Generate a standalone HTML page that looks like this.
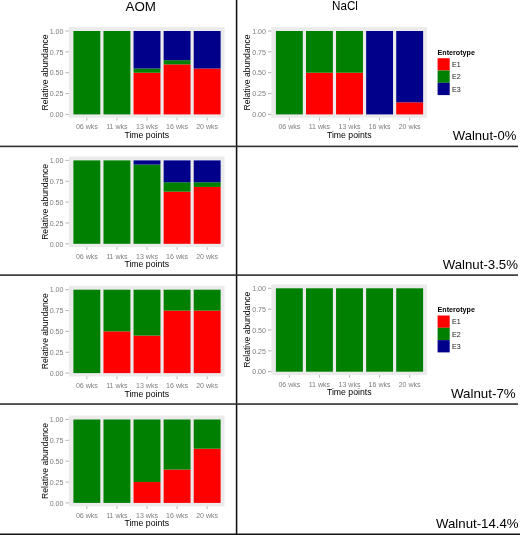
<!DOCTYPE html>
<html><head><meta charset="utf-8"><title>Enterotype</title>
<style>
html,body{margin:0;padding:0;background:#fff;}
body{width:520px;height:535px;overflow:hidden;font-family:"Liberation Sans",sans-serif;}
svg{display:block;}
svg text{font-family:"Liberation Sans",sans-serif;}
</style></head><body>
<svg width="520" height="535" viewBox="0 0 520 535">
<defs><filter id="soft" x="-5%" y="-5%" width="110%" height="110%" color-interpolation-filters="sRGB"><feGaussianBlur stdDeviation="0.35"/></filter></defs>
<g filter="url(#soft)">
<rect x="-10" y="-10" width="540" height="555" fill="#fff"/>
<rect x="68.90" y="27.10" width="155.60" height="90.70" fill="#ebebeb"/>
<rect x="73.40" y="31.00" width="26.90" height="83.40" fill="#008000"/>
<line x1="86.85" x2="86.85" y1="117.80" y2="120.50" stroke="#8c8c8c" stroke-width="0.6"/>
<text x="86.85" y="129.20" font-size="7.05" fill="#7f7f7f" text-anchor="middle">06 wks</text>
<rect x="103.48" y="31.00" width="26.90" height="83.40" fill="#008000"/>
<line x1="116.93" x2="116.93" y1="117.80" y2="120.50" stroke="#8c8c8c" stroke-width="0.6"/>
<text x="116.93" y="129.20" font-size="7.05" fill="#7f7f7f" text-anchor="middle">11 wks</text>
<rect x="133.56" y="72.70" width="26.90" height="41.70" fill="#ff0000"/>
<rect x="133.56" y="68.53" width="26.90" height="4.17" fill="#008000"/>
<rect x="133.56" y="31.00" width="26.90" height="37.53" fill="#00008b"/>
<line x1="147.01" x2="147.01" y1="117.80" y2="120.50" stroke="#8c8c8c" stroke-width="0.6"/>
<text x="147.01" y="129.20" font-size="7.05" fill="#7f7f7f" text-anchor="middle">13 wks</text>
<rect x="163.64" y="64.36" width="26.90" height="50.04" fill="#ff0000"/>
<rect x="163.64" y="60.19" width="26.90" height="4.17" fill="#008000"/>
<rect x="163.64" y="31.00" width="26.90" height="29.19" fill="#00008b"/>
<line x1="177.09" x2="177.09" y1="117.80" y2="120.50" stroke="#8c8c8c" stroke-width="0.6"/>
<text x="177.09" y="129.20" font-size="7.05" fill="#7f7f7f" text-anchor="middle">16 wks</text>
<rect x="193.72" y="68.53" width="26.90" height="45.87" fill="#ff0000"/>
<rect x="193.72" y="31.00" width="26.90" height="37.53" fill="#00008b"/>
<line x1="207.17" x2="207.17" y1="117.80" y2="120.50" stroke="#8c8c8c" stroke-width="0.6"/>
<text x="207.17" y="129.20" font-size="7.05" fill="#7f7f7f" text-anchor="middle">20 wks</text>
<line x1="65.50" x2="68.90" y1="114.40" y2="114.40" stroke="#8c8c8c" stroke-width="0.65"/>
<text x="63.50" y="117.15" font-size="7.1" fill="#7f7f7f" text-anchor="end">0.00</text>
<line x1="65.50" x2="68.90" y1="93.55" y2="93.55" stroke="#8c8c8c" stroke-width="0.65"/>
<text x="63.50" y="96.30" font-size="7.1" fill="#7f7f7f" text-anchor="end">0.25</text>
<line x1="65.50" x2="68.90" y1="72.70" y2="72.70" stroke="#8c8c8c" stroke-width="0.65"/>
<text x="63.50" y="75.45" font-size="7.1" fill="#7f7f7f" text-anchor="end">0.50</text>
<line x1="65.50" x2="68.90" y1="51.85" y2="51.85" stroke="#8c8c8c" stroke-width="0.65"/>
<text x="63.50" y="54.60" font-size="7.1" fill="#7f7f7f" text-anchor="end">0.75</text>
<line x1="65.50" x2="68.90" y1="31.00" y2="31.00" stroke="#8c8c8c" stroke-width="0.65"/>
<text x="63.50" y="33.75" font-size="7.1" fill="#7f7f7f" text-anchor="end">1.00</text>
<text x="146.70" y="137.80" font-size="8.7" fill="#000" text-anchor="middle">Time points</text>
<text transform="translate(47.90,72.45) rotate(-90)" font-size="8.6" fill="#000" text-anchor="middle">Relative abundance</text>
<rect x="271.40" y="27.10" width="155.60" height="90.70" fill="#ebebeb"/>
<rect x="275.90" y="31.00" width="26.90" height="83.40" fill="#008000"/>
<line x1="289.35" x2="289.35" y1="117.80" y2="120.50" stroke="#8c8c8c" stroke-width="0.6"/>
<text x="289.35" y="129.20" font-size="7.05" fill="#7f7f7f" text-anchor="middle">06 wks</text>
<rect x="305.98" y="72.70" width="26.90" height="41.70" fill="#ff0000"/>
<rect x="305.98" y="31.00" width="26.90" height="41.70" fill="#008000"/>
<line x1="319.43" x2="319.43" y1="117.80" y2="120.50" stroke="#8c8c8c" stroke-width="0.6"/>
<text x="319.43" y="129.20" font-size="7.05" fill="#7f7f7f" text-anchor="middle">11 wks</text>
<rect x="336.06" y="72.70" width="26.90" height="41.70" fill="#ff0000"/>
<rect x="336.06" y="31.00" width="26.90" height="41.70" fill="#008000"/>
<line x1="349.51" x2="349.51" y1="117.80" y2="120.50" stroke="#8c8c8c" stroke-width="0.6"/>
<text x="349.51" y="129.20" font-size="7.05" fill="#7f7f7f" text-anchor="middle">13 wks</text>
<rect x="366.14" y="31.00" width="26.90" height="83.40" fill="#00008b"/>
<line x1="379.59" x2="379.59" y1="117.80" y2="120.50" stroke="#8c8c8c" stroke-width="0.6"/>
<text x="379.59" y="129.20" font-size="7.05" fill="#7f7f7f" text-anchor="middle">16 wks</text>
<rect x="396.22" y="102.31" width="26.90" height="12.09" fill="#ff0000"/>
<rect x="396.22" y="31.00" width="26.90" height="71.31" fill="#00008b"/>
<line x1="409.67" x2="409.67" y1="117.80" y2="120.50" stroke="#8c8c8c" stroke-width="0.6"/>
<text x="409.67" y="129.20" font-size="7.05" fill="#7f7f7f" text-anchor="middle">20 wks</text>
<line x1="268.00" x2="271.40" y1="114.40" y2="114.40" stroke="#8c8c8c" stroke-width="0.65"/>
<text x="266.00" y="117.15" font-size="7.1" fill="#7f7f7f" text-anchor="end">0.00</text>
<line x1="268.00" x2="271.40" y1="93.55" y2="93.55" stroke="#8c8c8c" stroke-width="0.65"/>
<text x="266.00" y="96.30" font-size="7.1" fill="#7f7f7f" text-anchor="end">0.25</text>
<line x1="268.00" x2="271.40" y1="72.70" y2="72.70" stroke="#8c8c8c" stroke-width="0.65"/>
<text x="266.00" y="75.45" font-size="7.1" fill="#7f7f7f" text-anchor="end">0.50</text>
<line x1="268.00" x2="271.40" y1="51.85" y2="51.85" stroke="#8c8c8c" stroke-width="0.65"/>
<text x="266.00" y="54.60" font-size="7.1" fill="#7f7f7f" text-anchor="end">0.75</text>
<line x1="268.00" x2="271.40" y1="31.00" y2="31.00" stroke="#8c8c8c" stroke-width="0.65"/>
<text x="266.00" y="33.75" font-size="7.1" fill="#7f7f7f" text-anchor="end">1.00</text>
<text x="349.20" y="137.80" font-size="8.7" fill="#000" text-anchor="middle">Time points</text>
<text transform="translate(250.40,72.45) rotate(-90)" font-size="8.6" fill="#000" text-anchor="middle">Relative abundance</text>
<text x="437.60" y="54.80" font-size="7.15" font-weight="bold" fill="#000">Enterotype</text>
<rect x="437.60" y="58.20" width="12.1" height="12.3" fill="#ff0000"/>
<text x="452.00" y="66.90" font-size="7.1" fill="#1a1a1a">E1</text>
<rect x="437.60" y="70.50" width="12.1" height="12.3" fill="#008000"/>
<text x="452.00" y="79.20" font-size="7.1" fill="#1a1a1a">E2</text>
<rect x="437.60" y="82.80" width="12.1" height="12.3" fill="#00008b"/>
<text x="452.00" y="91.50" font-size="7.1" fill="#1a1a1a">E3</text>
<rect x="68.90" y="156.50" width="155.60" height="90.70" fill="#ebebeb"/>
<rect x="73.40" y="160.40" width="26.90" height="83.40" fill="#008000"/>
<line x1="86.85" x2="86.85" y1="247.20" y2="249.90" stroke="#8c8c8c" stroke-width="0.6"/>
<text x="86.85" y="258.60" font-size="7.05" fill="#7f7f7f" text-anchor="middle">06 wks</text>
<rect x="103.48" y="160.40" width="26.90" height="83.40" fill="#008000"/>
<line x1="116.93" x2="116.93" y1="247.20" y2="249.90" stroke="#8c8c8c" stroke-width="0.6"/>
<text x="116.93" y="258.60" font-size="7.05" fill="#7f7f7f" text-anchor="middle">11 wks</text>
<rect x="133.56" y="164.57" width="26.90" height="79.23" fill="#008000"/>
<rect x="133.56" y="160.40" width="26.90" height="4.17" fill="#00008b"/>
<line x1="147.01" x2="147.01" y1="247.20" y2="249.90" stroke="#8c8c8c" stroke-width="0.6"/>
<text x="147.01" y="258.60" font-size="7.05" fill="#7f7f7f" text-anchor="middle">13 wks</text>
<rect x="163.64" y="191.68" width="26.90" height="52.12" fill="#ff0000"/>
<rect x="163.64" y="182.25" width="26.90" height="9.42" fill="#008000"/>
<rect x="163.64" y="160.40" width="26.90" height="21.85" fill="#00008b"/>
<line x1="177.09" x2="177.09" y1="247.20" y2="249.90" stroke="#8c8c8c" stroke-width="0.6"/>
<text x="177.09" y="258.60" font-size="7.05" fill="#7f7f7f" text-anchor="middle">16 wks</text>
<rect x="193.72" y="186.92" width="26.90" height="56.88" fill="#ff0000"/>
<rect x="193.72" y="182.25" width="26.90" height="4.67" fill="#008000"/>
<rect x="193.72" y="160.40" width="26.90" height="21.85" fill="#00008b"/>
<line x1="207.17" x2="207.17" y1="247.20" y2="249.90" stroke="#8c8c8c" stroke-width="0.6"/>
<text x="207.17" y="258.60" font-size="7.05" fill="#7f7f7f" text-anchor="middle">20 wks</text>
<line x1="65.50" x2="68.90" y1="243.80" y2="243.80" stroke="#8c8c8c" stroke-width="0.65"/>
<text x="63.50" y="246.55" font-size="7.1" fill="#7f7f7f" text-anchor="end">0.00</text>
<line x1="65.50" x2="68.90" y1="222.95" y2="222.95" stroke="#8c8c8c" stroke-width="0.65"/>
<text x="63.50" y="225.70" font-size="7.1" fill="#7f7f7f" text-anchor="end">0.25</text>
<line x1="65.50" x2="68.90" y1="202.10" y2="202.10" stroke="#8c8c8c" stroke-width="0.65"/>
<text x="63.50" y="204.85" font-size="7.1" fill="#7f7f7f" text-anchor="end">0.50</text>
<line x1="65.50" x2="68.90" y1="181.25" y2="181.25" stroke="#8c8c8c" stroke-width="0.65"/>
<text x="63.50" y="184.00" font-size="7.1" fill="#7f7f7f" text-anchor="end">0.75</text>
<line x1="65.50" x2="68.90" y1="160.40" y2="160.40" stroke="#8c8c8c" stroke-width="0.65"/>
<text x="63.50" y="163.15" font-size="7.1" fill="#7f7f7f" text-anchor="end">1.00</text>
<text x="146.70" y="267.20" font-size="8.7" fill="#000" text-anchor="middle">Time points</text>
<text transform="translate(47.90,201.85) rotate(-90)" font-size="8.6" fill="#000" text-anchor="middle">Relative abundance</text>
<rect x="68.90" y="285.80" width="155.60" height="90.70" fill="#ebebeb"/>
<rect x="73.40" y="289.70" width="26.90" height="83.40" fill="#008000"/>
<line x1="86.85" x2="86.85" y1="376.50" y2="379.20" stroke="#8c8c8c" stroke-width="0.6"/>
<text x="86.85" y="387.90" font-size="7.05" fill="#7f7f7f" text-anchor="middle">06 wks</text>
<rect x="103.48" y="331.40" width="26.90" height="41.70" fill="#ff0000"/>
<rect x="103.48" y="289.70" width="26.90" height="41.70" fill="#008000"/>
<line x1="116.93" x2="116.93" y1="376.50" y2="379.20" stroke="#8c8c8c" stroke-width="0.6"/>
<text x="116.93" y="387.90" font-size="7.05" fill="#7f7f7f" text-anchor="middle">11 wks</text>
<rect x="133.56" y="335.57" width="26.90" height="37.53" fill="#ff0000"/>
<rect x="133.56" y="289.70" width="26.90" height="45.87" fill="#008000"/>
<line x1="147.01" x2="147.01" y1="376.50" y2="379.20" stroke="#8c8c8c" stroke-width="0.6"/>
<text x="147.01" y="387.90" font-size="7.05" fill="#7f7f7f" text-anchor="middle">13 wks</text>
<rect x="163.64" y="310.55" width="26.90" height="62.55" fill="#ff0000"/>
<rect x="163.64" y="289.70" width="26.90" height="20.85" fill="#008000"/>
<line x1="177.09" x2="177.09" y1="376.50" y2="379.20" stroke="#8c8c8c" stroke-width="0.6"/>
<text x="177.09" y="387.90" font-size="7.05" fill="#7f7f7f" text-anchor="middle">16 wks</text>
<rect x="193.72" y="310.55" width="26.90" height="62.55" fill="#ff0000"/>
<rect x="193.72" y="289.70" width="26.90" height="20.85" fill="#008000"/>
<line x1="207.17" x2="207.17" y1="376.50" y2="379.20" stroke="#8c8c8c" stroke-width="0.6"/>
<text x="207.17" y="387.90" font-size="7.05" fill="#7f7f7f" text-anchor="middle">20 wks</text>
<line x1="65.50" x2="68.90" y1="373.10" y2="373.10" stroke="#8c8c8c" stroke-width="0.65"/>
<text x="63.50" y="375.85" font-size="7.1" fill="#7f7f7f" text-anchor="end">0.00</text>
<line x1="65.50" x2="68.90" y1="352.25" y2="352.25" stroke="#8c8c8c" stroke-width="0.65"/>
<text x="63.50" y="355.00" font-size="7.1" fill="#7f7f7f" text-anchor="end">0.25</text>
<line x1="65.50" x2="68.90" y1="331.40" y2="331.40" stroke="#8c8c8c" stroke-width="0.65"/>
<text x="63.50" y="334.15" font-size="7.1" fill="#7f7f7f" text-anchor="end">0.50</text>
<line x1="65.50" x2="68.90" y1="310.55" y2="310.55" stroke="#8c8c8c" stroke-width="0.65"/>
<text x="63.50" y="313.30" font-size="7.1" fill="#7f7f7f" text-anchor="end">0.75</text>
<line x1="65.50" x2="68.90" y1="289.70" y2="289.70" stroke="#8c8c8c" stroke-width="0.65"/>
<text x="63.50" y="292.45" font-size="7.1" fill="#7f7f7f" text-anchor="end">1.00</text>
<text x="146.70" y="396.50" font-size="8.7" fill="#000" text-anchor="middle">Time points</text>
<text transform="translate(47.90,331.15) rotate(-90)" font-size="8.6" fill="#000" text-anchor="middle">Relative abundance</text>
<rect x="271.40" y="284.40" width="155.60" height="90.70" fill="#ebebeb"/>
<rect x="275.90" y="288.30" width="26.90" height="83.40" fill="#008000"/>
<line x1="289.35" x2="289.35" y1="375.10" y2="377.80" stroke="#8c8c8c" stroke-width="0.6"/>
<text x="289.35" y="386.50" font-size="7.05" fill="#7f7f7f" text-anchor="middle">06 wks</text>
<rect x="305.98" y="288.30" width="26.90" height="83.40" fill="#008000"/>
<line x1="319.43" x2="319.43" y1="375.10" y2="377.80" stroke="#8c8c8c" stroke-width="0.6"/>
<text x="319.43" y="386.50" font-size="7.05" fill="#7f7f7f" text-anchor="middle">11 wks</text>
<rect x="336.06" y="288.30" width="26.90" height="83.40" fill="#008000"/>
<line x1="349.51" x2="349.51" y1="375.10" y2="377.80" stroke="#8c8c8c" stroke-width="0.6"/>
<text x="349.51" y="386.50" font-size="7.05" fill="#7f7f7f" text-anchor="middle">13 wks</text>
<rect x="366.14" y="288.30" width="26.90" height="83.40" fill="#008000"/>
<line x1="379.59" x2="379.59" y1="375.10" y2="377.80" stroke="#8c8c8c" stroke-width="0.6"/>
<text x="379.59" y="386.50" font-size="7.05" fill="#7f7f7f" text-anchor="middle">16 wks</text>
<rect x="396.22" y="288.30" width="26.90" height="83.40" fill="#008000"/>
<line x1="409.67" x2="409.67" y1="375.10" y2="377.80" stroke="#8c8c8c" stroke-width="0.6"/>
<text x="409.67" y="386.50" font-size="7.05" fill="#7f7f7f" text-anchor="middle">20 wks</text>
<line x1="268.00" x2="271.40" y1="371.70" y2="371.70" stroke="#8c8c8c" stroke-width="0.65"/>
<text x="266.00" y="374.45" font-size="7.1" fill="#7f7f7f" text-anchor="end">0.00</text>
<line x1="268.00" x2="271.40" y1="350.85" y2="350.85" stroke="#8c8c8c" stroke-width="0.65"/>
<text x="266.00" y="353.60" font-size="7.1" fill="#7f7f7f" text-anchor="end">0.25</text>
<line x1="268.00" x2="271.40" y1="330.00" y2="330.00" stroke="#8c8c8c" stroke-width="0.65"/>
<text x="266.00" y="332.75" font-size="7.1" fill="#7f7f7f" text-anchor="end">0.50</text>
<line x1="268.00" x2="271.40" y1="309.15" y2="309.15" stroke="#8c8c8c" stroke-width="0.65"/>
<text x="266.00" y="311.90" font-size="7.1" fill="#7f7f7f" text-anchor="end">0.75</text>
<line x1="268.00" x2="271.40" y1="288.30" y2="288.30" stroke="#8c8c8c" stroke-width="0.65"/>
<text x="266.00" y="291.05" font-size="7.1" fill="#7f7f7f" text-anchor="end">1.00</text>
<text x="349.20" y="395.10" font-size="8.7" fill="#000" text-anchor="middle">Time points</text>
<text transform="translate(250.40,329.75) rotate(-90)" font-size="8.6" fill="#000" text-anchor="middle">Relative abundance</text>
<text x="437.60" y="312.10" font-size="7.15" font-weight="bold" fill="#000">Enterotype</text>
<rect x="437.60" y="315.50" width="12.1" height="12.3" fill="#ff0000"/>
<text x="452.00" y="324.20" font-size="7.1" fill="#1a1a1a">E1</text>
<rect x="437.60" y="327.80" width="12.1" height="12.3" fill="#008000"/>
<text x="452.00" y="336.50" font-size="7.1" fill="#1a1a1a">E2</text>
<rect x="437.60" y="340.10" width="12.1" height="12.3" fill="#00008b"/>
<text x="452.00" y="348.80" font-size="7.1" fill="#1a1a1a">E3</text>
<rect x="68.90" y="415.60" width="155.60" height="90.70" fill="#ebebeb"/>
<rect x="73.40" y="419.50" width="26.90" height="83.40" fill="#008000"/>
<line x1="86.85" x2="86.85" y1="506.30" y2="509.00" stroke="#8c8c8c" stroke-width="0.6"/>
<text x="86.85" y="517.70" font-size="7.05" fill="#7f7f7f" text-anchor="middle">06 wks</text>
<rect x="103.48" y="419.50" width="26.90" height="83.40" fill="#008000"/>
<line x1="116.93" x2="116.93" y1="506.30" y2="509.00" stroke="#8c8c8c" stroke-width="0.6"/>
<text x="116.93" y="517.70" font-size="7.05" fill="#7f7f7f" text-anchor="middle">11 wks</text>
<rect x="133.56" y="482.05" width="26.90" height="20.85" fill="#ff0000"/>
<rect x="133.56" y="419.50" width="26.90" height="62.55" fill="#008000"/>
<line x1="147.01" x2="147.01" y1="506.30" y2="509.00" stroke="#8c8c8c" stroke-width="0.6"/>
<text x="147.01" y="517.70" font-size="7.05" fill="#7f7f7f" text-anchor="middle">13 wks</text>
<rect x="163.64" y="469.54" width="26.90" height="33.36" fill="#ff0000"/>
<rect x="163.64" y="419.50" width="26.90" height="50.04" fill="#008000"/>
<line x1="177.09" x2="177.09" y1="506.30" y2="509.00" stroke="#8c8c8c" stroke-width="0.6"/>
<text x="177.09" y="517.70" font-size="7.05" fill="#7f7f7f" text-anchor="middle">16 wks</text>
<rect x="193.72" y="448.69" width="26.90" height="54.21" fill="#ff0000"/>
<rect x="193.72" y="419.50" width="26.90" height="29.19" fill="#008000"/>
<line x1="207.17" x2="207.17" y1="506.30" y2="509.00" stroke="#8c8c8c" stroke-width="0.6"/>
<text x="207.17" y="517.70" font-size="7.05" fill="#7f7f7f" text-anchor="middle">20 wks</text>
<line x1="65.50" x2="68.90" y1="502.90" y2="502.90" stroke="#8c8c8c" stroke-width="0.65"/>
<text x="63.50" y="505.65" font-size="7.1" fill="#7f7f7f" text-anchor="end">0.00</text>
<line x1="65.50" x2="68.90" y1="482.05" y2="482.05" stroke="#8c8c8c" stroke-width="0.65"/>
<text x="63.50" y="484.80" font-size="7.1" fill="#7f7f7f" text-anchor="end">0.25</text>
<line x1="65.50" x2="68.90" y1="461.20" y2="461.20" stroke="#8c8c8c" stroke-width="0.65"/>
<text x="63.50" y="463.95" font-size="7.1" fill="#7f7f7f" text-anchor="end">0.50</text>
<line x1="65.50" x2="68.90" y1="440.35" y2="440.35" stroke="#8c8c8c" stroke-width="0.65"/>
<text x="63.50" y="443.10" font-size="7.1" fill="#7f7f7f" text-anchor="end">0.75</text>
<line x1="65.50" x2="68.90" y1="419.50" y2="419.50" stroke="#8c8c8c" stroke-width="0.65"/>
<text x="63.50" y="422.25" font-size="7.1" fill="#7f7f7f" text-anchor="end">1.00</text>
<text x="146.70" y="526.30" font-size="8.7" fill="#000" text-anchor="middle">Time points</text>
<text transform="translate(47.90,460.95) rotate(-90)" font-size="8.6" fill="#000" text-anchor="middle">Relative abundance</text>
<rect x="235.8" y="-6" width="1.55" height="547" fill="#111"/>
<rect x="-6" y="145.6" width="524" height="1.6" fill="#303030"/>
<rect x="-6" y="274.3" width="524" height="1.6" fill="#303030"/>
<rect x="-6" y="403.25" width="524" height="1.6" fill="#303030"/>
<rect x="-6" y="533.5" width="532" height="8" fill="#111"/>
<text x="140.7" y="10.6" font-size="12.0" text-anchor="middle" fill="#000" textLength="30.4" lengthAdjust="spacingAndGlyphs">AOM</text>
<text x="345" y="10.3" font-size="12.1" text-anchor="middle" fill="#000" textLength="25.8" lengthAdjust="spacingAndGlyphs">NaCl</text>
<text x="516.3" y="139.7" font-size="12.6" text-anchor="end" fill="#000" textLength="63.5" lengthAdjust="spacingAndGlyphs">Walnut-0%</text>
<text x="518.0" y="269.2" font-size="12.6" text-anchor="end" fill="#000" textLength="75.3" lengthAdjust="spacingAndGlyphs">Walnut-3.5%</text>
<text x="515.7" y="397.6" font-size="12.6" text-anchor="end" fill="#000" textLength="64.8" lengthAdjust="spacingAndGlyphs">Walnut-7%</text>
<text x="518.6" y="527.9" font-size="12.6" text-anchor="end" fill="#000" textLength="82.6" lengthAdjust="spacingAndGlyphs">Walnut-14.4%</text>
</g>
</svg>
</body></html>
